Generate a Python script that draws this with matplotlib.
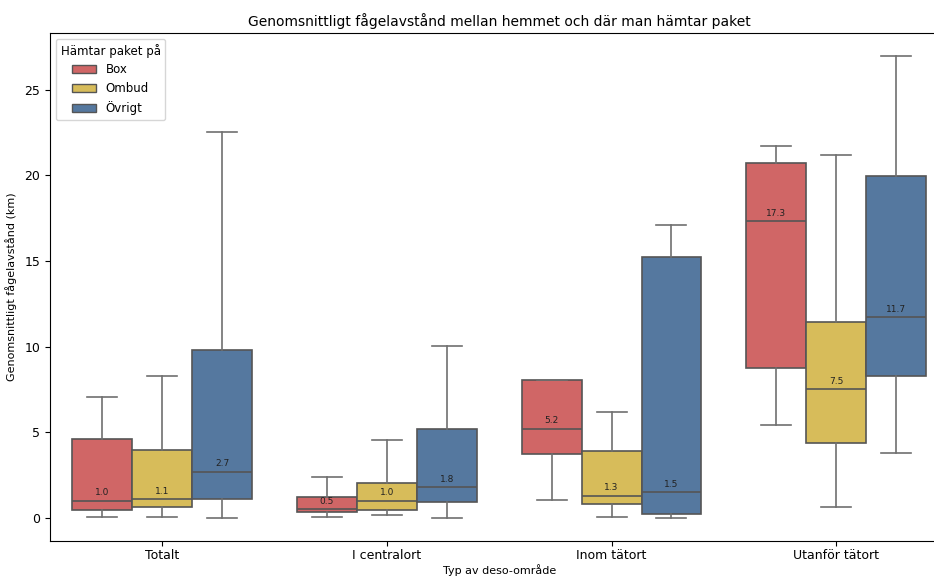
import matplotlib
matplotlib.use("Agg")
import matplotlib.pyplot as plt
from matplotlib.patches import Patch

categories = ["Totalt", "I centralort", "Inom tätort", "Utanför tätort"]
hues = ["Box", "Ombud", "Övrigt"]
colors = ["#d06666", "#d7bc5a", "#55789f"]

# per hue: lists over categories
whislo = {"Box": [0.06, 0.06, 1.05, 5.40],
          "Ombud": [0.06, 0.18, 0.06, 0.64],
          "Övrigt": [0.0, 0.0, 0.0, 3.80]}
q1 = {"Box": [0.47, 0.35, 3.74, 8.76],
      "Ombud": [0.64, 0.47, 0.82, 4.38],
      "Övrigt": [1.11, 0.93, 0.23, 8.29]}
med = {"Box": [1.0, 0.5, 5.2, 17.3],
       "Ombud": [1.1, 1.0, 1.3, 7.5],
       "Övrigt": [2.7, 1.8, 1.5, 11.7]}
q3 = {"Box": [4.61, 1.23, 8.06, 20.74],
      "Ombud": [3.97, 2.04, 3.91, 11.45],
      "Övrigt": [9.81, 5.20, 15.25, 19.98]}
whishi = {"Box": [7.07, 2.40, 8.06, 21.73],
          "Ombud": [8.29, 4.56, 6.19, 21.20],
          "Övrigt": [22.55, 10.05, 17.11, 26.93]}

fig = plt.figure(figsize=(9.34, 5.77), dpi=100)
ax = fig.add_axes([50 / 934, 1 - 541 / 577, (948.5 - 50) / 934, (541 - 33) / 577])

w = 0.8 / 3
line_c = "#555555"
for j, h in enumerate(hues):
    stats = []
    for i in range(len(categories)):
        stats.append(dict(whislo=whislo[h][i], q1=q1[h][i], med=med[h][i],
                          q3=q3[h][i], whishi=whishi[h][i], fliers=[]))
    pos = [i + (j - 1) * w for i in range(len(categories))]
    ax.bxp(stats, positions=pos, widths=w, patch_artist=True, showfliers=False,
           boxprops=dict(facecolor=colors[j], edgecolor=line_c, linewidth=1.2),
           medianprops=dict(color=line_c, linewidth=1.2),
           whiskerprops=dict(color="#707070", linewidth=1.2),
           capprops=dict(color="#707070", linewidth=1.2),
           capwidths=w * 0.5)
    for i, p in enumerate(pos):
        ax.text(p, med[h][i] + 0.2, f"{med[h][i]:.1f}", ha="center", va="bottom",
                fontsize=6.5, color="#222222")

ax.set_xlim(-0.5, 3.5)
ax.set_ylim(-1.35, 28.3)
ax.set_xticks(range(len(categories)))
ax.set_xticklabels(categories)
ax.set_yticks([0, 5, 10, 15, 20, 25])
ax.tick_params(labelsize=9)
ax.tick_params(axis="x", pad=2)
ax.set_xlabel("Typ av deso-område", fontsize=8, labelpad=2)
ax.set_ylabel("Genomsnittligt fågelavstånd (km)", fontsize=8, labelpad=5)
ax.set_title("Genomsnittligt fågelavstånd mellan hemmet och där man hämtar paket",
             fontsize=10, pad=5)

handles = [Patch(facecolor=c, edgecolor=line_c, label=h) for h, c in zip(hues, colors)]
ax.legend(handles=handles, title="Hämtar paket på", loc="upper left",
          fontsize=8.5, title_fontsize=8.5)

fig.savefig("out.png", dpi=100)
